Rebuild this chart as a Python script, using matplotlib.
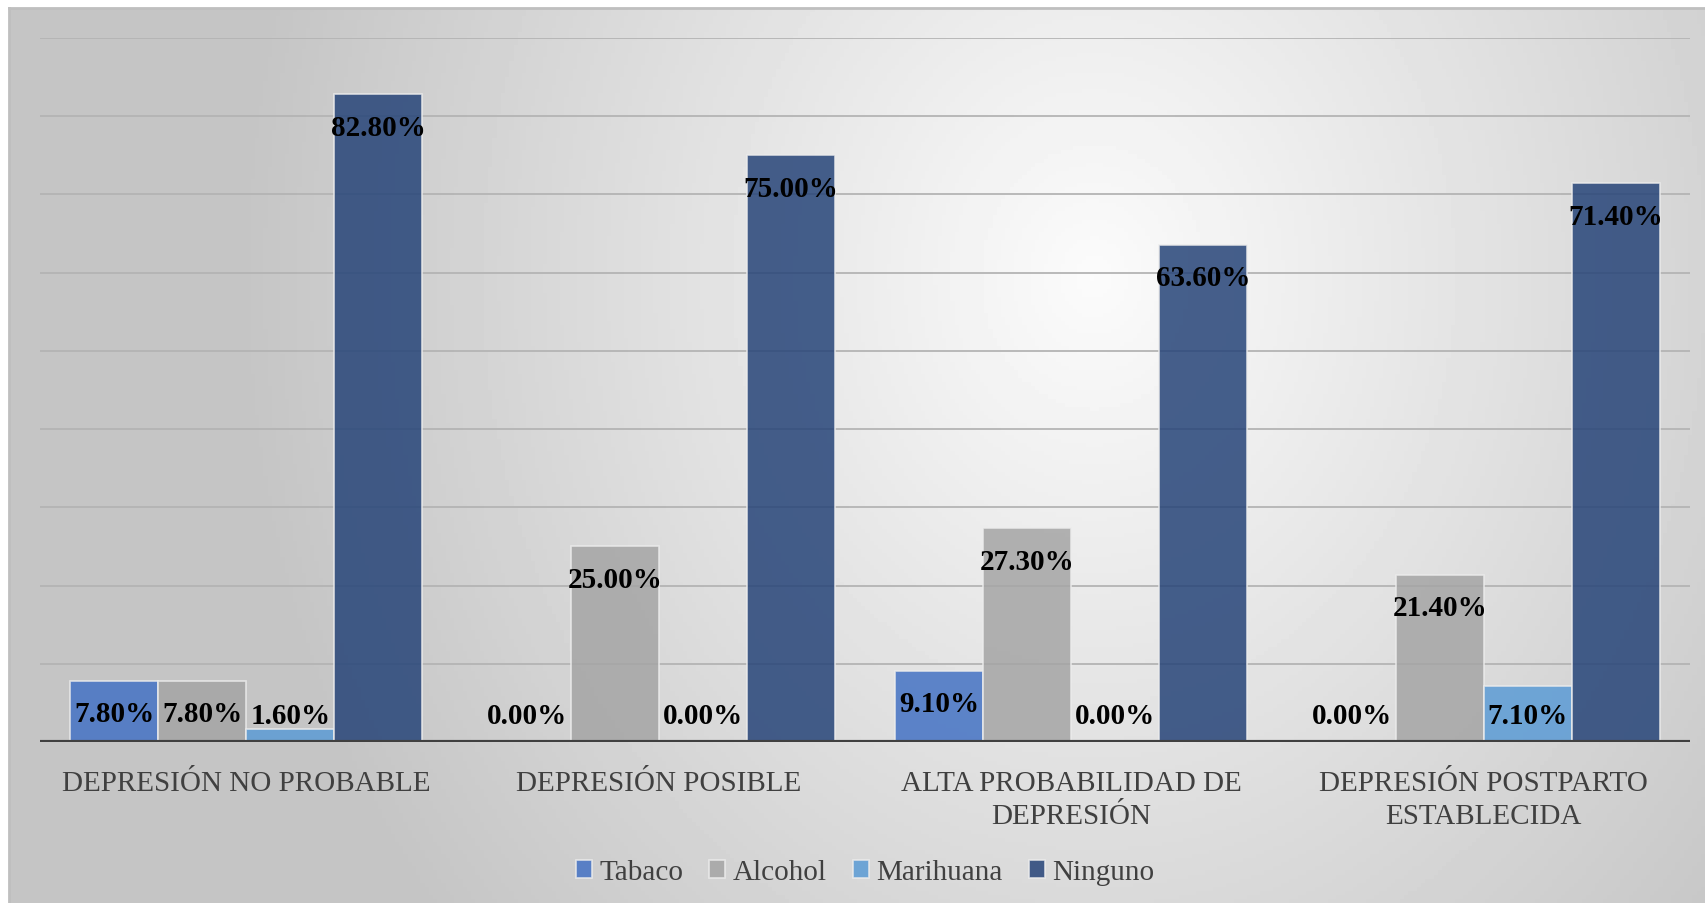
import numpy as np
from matplotlib import pyplot as plt

categories = ['DEPRESIÓN NO PROBABLE', 'DEPRESIÓN POSIBLE',
              'ALTA PROBABILIDAD DE\nDEPRESIÓN', 'DEPRESIÓN POSTPARTO\nESTABLECIDA']
series = ['Tabaco', 'Alcohol', 'Marihuana', 'Ninguno']
tabaco = [0.078, 0.0, 0.091, 0.0]
alcohol = [0.078, 0.25, 0.273, 0.214]
marihuana = [0.016, 0.0, 0.0, 0.071]
ninguno = [0.828, 0.75, 0.636, 0.714]
values = [tabaco, alcohol, marihuana, ninguno]
colors = ['#4472C4', '#A5A5A5', '#5B9BD5', '#264478']

W, H = 1705, 904
fig = plt.figure(figsize=(W / 100, H / 100), dpi=100)
plt.rcParams['font.family'] = ['Liberation Serif', 'DejaVu Serif']

# chart background: soft radial gradient, lighter towards upper centre-right
bg = fig.add_axes([9 / W, 0, 1 - 9 / W, 1 - 9 / H])
gx, gy = np.meshgrid(np.linspace(0, 1, 400), np.linspace(0, 1, 220))
d = np.sqrt(((gx - 0.64) / 0.85) ** 2 + ((gy - 0.3) / 1.9) ** 2)
shade = np.clip(0.985 - 0.36 * d, 0.77, 1.0)
bg.imshow(shade, cmap='gray', vmin=0, vmax=1, aspect='auto', extent=(0, 1, 1, 0))
bg.set_xlim(0, 1)
bg.set_ylim(1, 0)
bg.axis('off')
fig.add_artist(plt.Line2D([9 / W, 1], [1 - 9 / H, 1 - 9 / H], color='#bfbfbf', lw=2))
fig.add_artist(plt.Line2D([9 / W, 9 / W], [0, 1 - 9 / H], color='#bfbfbf', lw=2))

ax = fig.add_axes([40 / W, 1 - 743 / H, 1650 / W, 704 / H])
ax.set_facecolor('none')
x = np.arange(len(categories))
bw = 0.2135
for i, (name, vals, col) in enumerate(zip(series, values, colors)):
    xs = x + (i - 1.5) * bw
    ax.bar(xs, vals, width=bw, color=col, alpha=0.85, edgecolor='#ececec',
           linewidth=1.2, label=name, zorder=3)
    for xi, v in zip(xs, vals):
        ax.text(xi, max(v - 0.042, 0.034), f'{v * 100:.2f}%', ha='center', va='center',
                fontsize=21, fontweight='bold', color='black', zorder=5)

for g in np.arange(0.1, 0.95, 0.1):
    ax.axhline(g, color='#b4b4b4', lw=1.3, zorder=1)
ax.axhline(0, color='#404040', lw=3, zorder=4)

ax.set_xlim(-0.5, 3.5)
ax.set_ylim(0, 0.9)
ax.set_yticks([])
ax.set_xticks(x)
ax.set_xticklabels(categories, fontsize=21, color='#404040', linespacing=1.35)
ax.tick_params(axis='x', length=0, pad=20)
for s in ax.spines.values():
    s.set_visible(False)

leg = ax.legend(loc='center', bbox_to_anchor=(0.5, -0.185), ncol=4, frameon=False,
                fontsize=21, handlelength=0.55, handleheight=0.55, handletextpad=0.25,
                columnspacing=0.9, labelcolor='#404040')

fig.savefig('out.png', dpi=100)
